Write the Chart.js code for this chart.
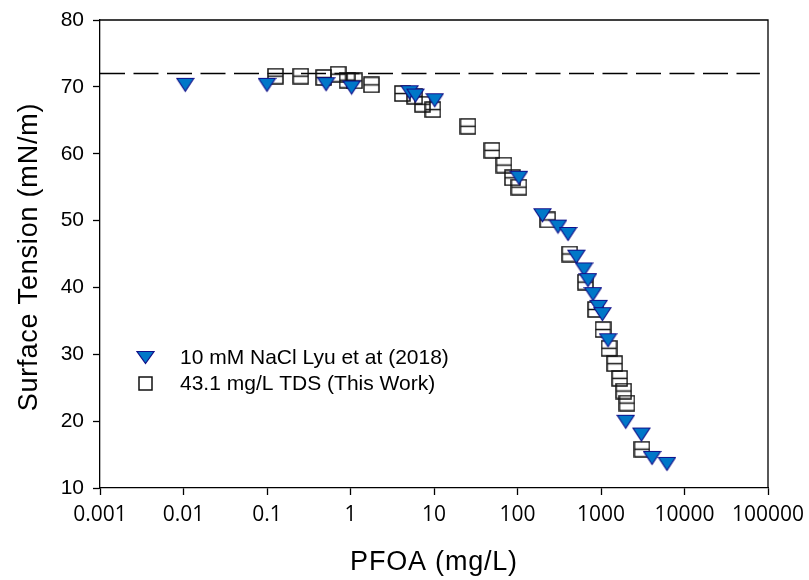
<!DOCTYPE html>
<html><head><meta charset="utf-8">
<script src="https://cdn.jsdelivr.net/npm/chart.js@4.4.0/dist/chart.umd.min.js"></script>
<style>html,body{margin:0;padding:0;background:#fff;}#wrap{width:809px;height:580px;position:relative;}</style>
</head><body><div id="wrap"><canvas id="c"></canvas></div>
<script>
// ---- data ----
const xTickValues = [0.001, 0.01, 0.1, 1, 10, 100, 1000, 10000, 100000];
const xTickLabels = ["0.001", "0.01", "0.1", "1", "10", "100", "1000", "10000", "100000"];
const yTickValues = [10, 20, 30, 40, 50, 60, 70, 80];

const naclX = [0.0105, 0.1, 0.51, 1.03, 5.1, 6.0, 10.2, 104, 199, 305, 403, 507, 626, 698, 802, 935, 1040, 1213, 1977, 3047, 4083, 6170];
const naclY = [70.3, 70.3, 70.4, 69.9, 69.2, 68.7, 68.0, 56.4, 50.8, 49.1, 48.0, 44.6, 42.7, 41.1, 39.0, 37.1, 36.0, 32.1, 19.9, 18.0, 14.5, 13.6];

const tdsX = [0.126, 0.254, 0.478, 0.71, 0.91, 1.12, 1.78, 4.18, 5.87, 7.26, 9.7, 25.5, 49.5, 68.9, 86.9, 104, 230, 422, 650, 863, 1057, 1247, 1459, 1675, 1870, 2047, 3097];
const tdsY = [71.6, 71.6, 71.4, 71.9, 71.0, 70.9, 70.3, 69.0, 68.6, 67.4, 66.6, 64.1, 60.5, 58.3, 56.4, 55.0, 50.1, 45.0, 40.8, 36.7, 33.7, 30.9, 28.6, 26.4, 24.5, 22.7, 15.8];

const refLineX = [0.001, 80000];
const refLineY = [72, 72];

const seriesNames = ["10 mM NaCl Lyu et at (2018)", "43.1 mg/L TDS (This Work)"];
const xTitle = "PFOA (mg/L)";
const yTitle = "Surface Tension (mN/m)";

// ---- marker images ----
function makeTri(w, h) {
  const c = document.createElement('canvas'); c.width = w + 2; c.height = h + 2;
  const g = c.getContext('2d');
  g.beginPath(); g.moveTo(1, 1.5); g.lineTo(w + 1, 1.5); g.lineTo(w / 2 + 1, h + 0.5); g.closePath();
  g.fillStyle = '#0077C8'; g.fill();
  g.lineWidth = 1.2; g.strokeStyle = '#10108a'; g.stroke();
  return c;
}
function makeSq(s, mid) {
  const c = document.createElement('canvas'); c.width = s + 2; c.height = s + 2;
  const g = c.getContext('2d');
  g.lineWidth = 1.5; g.strokeStyle = '#111';
  g.strokeRect(1, 1, s, s);
  if (mid) { g.beginPath(); g.moveTo(1, 1 + s / 2); g.lineTo(1 + s, 1 + s / 2); g.stroke(); }
  return c;
}
const triImg = makeTri(17, 14);
const sqImg = makeSq(15, true);
const triLeg = makeTri(17, 13);
const sqLeg = makeSq(13, false);

const pts = (xs, ys) => xs.map((x, i) => ({ x: x, y: ys[i] }));

const framePlugin = {
  id: 'frame',
  afterDraw(chart) {
    const { ctx, chartArea: a } = chart;
    ctx.save();
    ctx.strokeStyle = '#000'; ctx.lineWidth = 1.3;
    ctx.beginPath(); ctx.moveTo(a.left, a.top); ctx.lineTo(a.right, a.top); ctx.lineTo(a.right, a.bottom); ctx.stroke();
    // legend
    ctx.drawImage(triLeg, Math.round(145 - triLeg.width / 2), Math.round(357 - triLeg.height / 2));
    ctx.drawImage(sqLeg, Math.round(145 - sqLeg.width / 2), Math.round(383 - sqLeg.height / 2));
    ctx.fillStyle = '#000';
    ctx.font = '21px "Liberation Sans", Arial, sans-serif';
    ctx.textAlign = 'left'; ctx.textBaseline = 'middle';
    ctx.fillText(seriesNames[0], 180, 358);
    ctx.fillText(seriesNames[1], 180, 384);
    // axis titles
    ctx.font = '27px "Liberation Sans", Arial, sans-serif';
    try { ctx.letterSpacing = '0.8px'; } catch (e) {}
    ctx.textAlign = 'center'; ctx.textBaseline = 'alphabetic';
    ctx.fillText(xTitle, (a.left + a.right) / 2, 570);
    ctx.translate(37, 257); ctx.rotate(-Math.PI / 2);
    ctx.fillText(yTitle, 0, 0);
    ctx.restore();
  }
};

new Chart(document.getElementById('c'), {
  type: 'scatter',
  data: {
    datasets: [
      { label: 'ref', data: pts(refLineX, refLineY), showLine: true, pointRadius: 0, borderColor: '#000', borderWidth: 1.3, borderDash: [25, 8.5], order: 3 },
      { label: seriesNames[1], data: pts(tdsX, tdsY), pointStyle: sqImg, order: 2 },
      { label: seriesNames[0], data: pts(naclX, naclY), pointStyle: triImg, order: 1 }
    ]
  },
  options: {
    responsive: true, maintainAspectRatio: false, animation: false, devicePixelRatio: 1,
    layout: { padding: { top: 20, right: 41, bottom: 0, left: 0 } },
    plugins: { legend: { display: false }, tooltip: { enabled: false } },
    scales: {
      x: {
        type: 'logarithmic', min: 0.001, max: 100000,
        afterBuildTicks: s => { s.ticks = xTickValues.map(v => ({ value: v, major: true })); },
        afterFit: s => { s.height = 92; s.paddingLeft = 0; s.paddingRight = 0; },
        ticks: { autoSkip: false, maxRotation: 0, color: '#000', padding: 7, font: { family: '"Open Sans", sans-serif', size: 21 },
          callback: (v, i) => xTickLabels[i] },
        grid: { drawOnChartArea: false, tickLength: 7, color: '#000', tickWidth: 1.3 },
        border: { color: '#000', width: 1.3 }
      },
      y: {
        type: 'linear', min: 10, max: 80,
        afterBuildTicks: s => { s.ticks = yTickValues.map(v => ({ value: v })); },
        afterFit: s => { s.width = 100; s.paddingTop = 0; s.paddingBottom = 0; },
        ticks: { color: '#000', padding: 9, font: { family: '"Liberation Sans", Arial, sans-serif', size: 21 } },
        grid: { drawOnChartArea: false, tickLength: 7, color: '#000', tickWidth: 1.3 },
        border: { color: '#000', width: 1.3 }
      }
    }
  },
  plugins: [framePlugin]
});
</script></body></html>
